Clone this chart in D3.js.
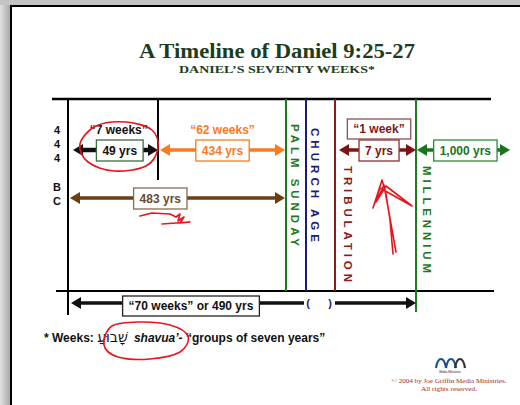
<!DOCTYPE html>
<html>
<head>
<meta charset="utf-8">
<script src="https://cdn.jsdelivr.net/npm/d3@7/dist/d3.min.js"></script>
<style>
  body { margin: 0; background: #fff; }
  svg { display: block; }
  .sans { font-family: "Liberation Sans", Arial, sans-serif; font-weight: bold; }
  .serif { font-family: "Liberation Serif", Georgia, serif; font-weight: bold; }
</style>
</head>
<body>
<svg id="chart" width="520" height="405"></svg>
<script>
// Timeline markers (left to right)
const markers = ['start', 'week7', 'palm', 'church', 'trib', 'mill', 'far'];

// Periods drawn as double arrows
const periodNames  = ['7 weeks', '62 weeks', '69 weeks', '1 week', 'Millennium'];
const periodYears  = [49, 434, 483, 7, 1000];
const periodLabels = ['49 yrs', '434 yrs', '483 yrs', '7 yrs', '1,000 yrs'];
const periodFrom   = ['start', 'week7', 'start', 'trib', 'mill'];
const periodTo     = ['week7', 'palm', 'palm', 'mill', 'far'];
const periodRow    = ['upper', 'upper', 'lower', 'upper', 'upper'];
const weekNotes    = ['\u201C7 weeks\u201D', '\u201C62 weeks\u201D', null, '\u201C1 week\u201D', null];

// Eras written down the vertical lines
const eraNames   = ['PALM SUNDAY', 'CHURCH AGE', 'TRIBULATION', 'MILLENNIUM'];
const eraMarkers = ['palm', 'church', 'trib', 'mill'];

// Start date written down the left side
const startChars = ['4', '4', '4', '', 'B', 'C'];

// Whole span
const totalLabel = '\u201C70 weeks\u201D or 490 yrs';
const totalYears = 490;

// Styles
const periodColors = {
    '7 weeks': '#111111',
    '62 weeks': '#fb7a1e',
    '69 weeks': '#6e3d12',
    '1 week': '#7e1414',
    'Millennium': '#17761c'
};
const boxBorders = {
    '7 weeks': '#3e6b3e',
    '62 weeks': '#fb7a1e',
    '69 weeks': '#8a6a50',
    '1 week': '#8e3030',
    'Millennium': '#2f8a34'
};
const eraColors = {
    'PALM SUNDAY': '#1d7a1d',
    'CHURCH AGE': '#1b1b7e',
    'TRIBULATION': '#8c1a1a',
    'MILLENNIUM': '#1d7a1d'
};

const svg = d3.select('#chart');

// Page frame (screenshot edge)
const grad = svg.append('defs').append('linearGradient').attr('id', 'edge');
grad.append('stop').attr('offset', '0%').attr('stop-color', '#e2e2e2');
grad.append('stop').attr('offset', '100%').attr('stop-color', '#a9a9a9');
svg.append('rect').attr('x', 0).attr('y', 0).attr('width', 10).attr('height', 405).attr('fill', 'url(#edge)');
svg.append('rect').attr('x', 0).attr('y', 0).attr('width', 520).attr('height', 5).attr('fill', '#c4c4c4');
svg.append('path').attr('d', 'M11,405V6H520').attr('fill', 'none').attr('stroke', '#000').attr('stroke-width', 2);

// Scales
const x = d3.scaleOrdinal().domain(markers).range([68, 158, 286, 306, 335, 416, 510]);
const y = d3.scaleOrdinal().domain(['top', 'note', 'upper', 'lower', 'bottom', 'total'])
    .range([99, 130, 150, 198, 291, 303]);

// Title
svg.append('text').attr('class', 'serif').attr('x', 277).attr('y', 58)
    .attr('text-anchor', 'middle').attr('fill', '#1c3d1c').style('font-size', '20px')
    .attr('textLength', 276).attr('lengthAdjust', 'spacingAndGlyphs')
    .text('A Timeline of Daniel 9:25-27');
svg.append('text').attr('class', 'serif').attr('x', 277).attr('y', 73)
    .attr('text-anchor', 'middle').attr('fill', '#1c3d1c').style('font-size', '10.5px')
    .attr('textLength', 196).attr('lengthAdjust', 'spacingAndGlyphs')
    .text('DANIEL\u2019S SEVENTY WEEKS*');

// Horizontal frame lines
svg.append('line').attr('x1', 52).attr('x2', 491).attr('y1', y('top')).attr('y2', y('top'))
    .attr('stroke', '#000').attr('stroke-width', 2.5);
svg.append('line').attr('x1', 56).attr('x2', 494).attr('y1', y('bottom')).attr('y2', y('bottom'))
    .attr('stroke', '#000').attr('stroke-width', 2);

// Vertical marker lines
const vLines = [
    { m: 'start', y2: 315, c: '#000' },
    { m: 'week7', y2: 180, c: '#000' },
    { m: 'palm', y2: y('bottom'), c: eraColors['PALM SUNDAY'] },
    { m: 'church', y2: y('bottom'), c: eraColors['CHURCH AGE'] },
    { m: 'trib', y2: y('bottom'), c: eraColors['TRIBULATION'] },
    { m: 'mill', y2: 312, c: eraColors['MILLENNIUM'] }
];
svg.selectAll('.vline').data(vLines).enter().append('line')
    .attr('x1', d => x(d.m)).attr('x2', d => x(d.m))
    .attr('y1', y('top')).attr('y2', d => d.y2)
    .attr('stroke', d => d.c).attr('stroke-width', 2);

// Era labels (rotated)
const eraStart = { 'PALM SUNDAY': 124, 'CHURCH AGE': 128, 'TRIBULATION': 166, 'MILLENNIUM': 166 };
const eraLen = { 'PALM SUNDAY': 122, 'CHURCH AGE': 114, 'TRIBULATION': 116, 'MILLENNIUM': 107 };
eraNames.forEach((name, i) => {
    const cx = x(eraMarkers[i]) + (i === 3 ? 11 : i === 2 ? 13 : 9);
    svg.append('text').attr('class', 'sans')
        .attr('transform', `translate(${cx},${eraStart[name]}) rotate(90)`)
        .attr('dominant-baseline', 'central')
        .attr('fill', eraColors[name]).style('font-size', '11.5px')
        .attr('textLength', eraLen[name]).attr('lengthAdjust', 'spacing')
        .text(name);
});

// Start date letters
svg.selectAll('.startc').data(startChars).enter().append('text')
    .attr('class', 'sans').attr('x', 57).attr('y', (d, i) => 134 + i * 14.2)
    .attr('text-anchor', 'middle').attr('fill', '#111').style('font-size', '11px')
    .text(d => d);

// Double arrow helper
function doubleArrow(g, x1, x2, yy, color, width, heads) {
    const hl = 10, hw = 6;
    g.append('line').attr('x1', x1 + (heads[0] ? hl - 1 : 0)).attr('x2', x2 - (heads[1] ? hl - 1 : 0))
        .attr('y1', yy).attr('y2', yy).attr('stroke', color).attr('stroke-width', width);
    if (heads[0]) g.append('path').attr('d', `M${x1},${yy}L${x1 + hl},${yy - hw}L${x1 + hl},${yy + hw}Z`).attr('fill', color);
    if (heads[1]) g.append('path').attr('d', `M${x2},${yy}L${x2 - hl},${yy - hw}L${x2 - hl},${yy + hw}Z`).attr('fill', color);
}

function labelBox(g, cx, cy, label, textColor, border, h) {
    const t = g.append('text').attr('class', 'sans').attr('x', cx).attr('y', cy)
        .attr('text-anchor', 'middle').attr('dominant-baseline', 'central')
        .attr('fill', textColor).style('font-size', '12px').text(label);
    const w = t.node().getComputedTextLength() + 12;
    g.insert('rect', 'text').attr('x', cx - w / 2).attr('y', cy - h / 2)
        .attr('width', w).attr('height', h)
        .attr('fill', '#fff').attr('stroke', border).attr('stroke-width', 1.3);
    return w;
}

// Arrow ends and box placement (tweaks per period)
const tipPad = { '7 weeks': [5, 0], '62 weeks': [2, 1], '69 weeks': [2, 1], '1 week': [4, 0], 'Millennium': [1, 0] };
const boxAt = { '7 weeks': 0.55, '62 weeks': 0.5, '69 weeks': 0.42, '1 week': 0.52, 'Millennium': 0.52 };
const strokeW = { '7 weeks': 4.5, '62 weeks': 3.5, '69 weeks': 3.5, '1 week': 3.5, 'Millennium': 3.5 };

periodNames.forEach((name, i) => {
    const g = svg.append('g');
    const x1 = x(periodFrom[i]) + tipPad[name][0];
    const x2 = x(periodTo[i]) - tipPad[name][1];
    const yy = y(periodRow[i]);
    const col = periodColors[name];
    doubleArrow(g, x1, x2, yy, col, strokeW[name], [true, true]);
    const cx = x1 + (x2 - x1) * boxAt[name];
    const textCol = name === '7 weeks' ? '#111' : name === '69 weeks' ? '#6b4a2c' : col;
    labelBox(g, cx, yy + 0.5, periodLabels[i], textCol, boxBorders[name], 21);
    if (weekNotes[i]) {
        if (name === '1 week') {
            labelBox(g, cx, y('note') - 1, weekNotes[i], '#7a1c1c', '#8e5050', 20);
        } else {
            svg.append('text').attr('class', 'sans').attr('x', cx + (name === '7 weeks' ? -1 : 0)).attr('y', y('note'))
                .attr('text-anchor', 'middle').attr('dominant-baseline', 'central')
                .attr('fill', name === '7 weeks' ? '#111' : col).style('font-size', '12px').text(weekNotes[i]);
        }
    }
});

// Whole 70 weeks arrow, broken by the church age gap
const gT = svg.append('g');
const ty = y('total');
doubleArrow(gT, x('start') + 3, x('church') - 2, ty, '#111', 3.5, [true, false]);
doubleArrow(gT, x('trib'), x('mill'), ty, '#111', 3.5, [false, true]);
gT.append('text').attr('class', 'sans').attr('x', x('church') + 2).attr('y', ty)
    .attr('text-anchor', 'middle').attr('dominant-baseline', 'central')
    .attr('fill', '#1b1b7e').style('font-size', '11px').text('(');
gT.append('text').attr('class', 'sans').attr('x', x('trib') - 5).attr('y', ty)
    .attr('text-anchor', 'middle').attr('dominant-baseline', 'central')
    .attr('fill', '#1b1b7e').style('font-size', '11px').text(')');
labelBox(gT, 191, ty + 3, totalLabel, '#111', '#222', 20);

// Footnote
const foot = svg.append('text').attr('class', 'sans').attr('x', 44).attr('y', 342)
    .attr('fill', '#111').style('font-size', '12px');
foot.append('tspan').text('* Weeks: ');
foot.append('tspan').style('font-family', '"DejaVu Sans", sans-serif').style('font-weight', 'normal')
    .style('font-size', '14px').text('\u05E9\u05B8\u05C1\u05D1\u05D5\u05BC\u05E2\u05B7');
foot.append('tspan').style('font-style', 'italic').attr('dx', 6).text('shavua\u2019-');
foot.append('tspan').text(' \u201Cgroups of seven years\u201D');

// Red hand-drawn marks
const red = svg.append('g').attr('fill', 'none').attr('stroke', '#e8141c').attr('stroke-width', 1.6)
    .attr('stroke-linejoin', 'round').attr('stroke-linecap', 'round');
const e1 = { cx: x('start') + 50, cy: y('upper') - 4 };
red.append('path').attr('d', d3.line().curve(d3.curveCardinalClosed)([
    [e1.cx - 38, e1.cy - 2], [e1.cx - 22, e1.cy - 20], [e1.cx + 8, e1.cy - 24],
    [e1.cx + 34, e1.cy - 16], [e1.cx + 40, e1.cy + 2], [e1.cx + 28, e1.cy + 20],
    [e1.cx - 4, e1.cy + 25], [e1.cx - 30, e1.cy + 16]
]));
const s = { x: 140, y: 213 };
red.append('path').attr('d', d3.line()([
    [s.x, s.y + 3], [s.x + 12, s.y], [s.x + 30, s.y + 1], [s.x + 36, s.y + 4], [s.x + 40, s.y + 1],
    [s.x + 38, s.y + 8], [s.x + 44, s.y + 4], [s.x + 40, s.y + 10], [s.x + 50, s.y + 9], [s.x + 22, s.y + 11]
]));
const a = { x: x('trib') + 47, y: 180 };
red.append('path').attr('d', d3.line()([
    [a.x + 11, a.y + 74], [a.x + 8, a.y + 40], [a.x + 4, a.y + 14], [a.x, a.y],
    [a.x - 9, a.y + 28], [a.x - 2, a.y + 8], [a.x + 30, a.y + 26], [a.x + 4, a.y + 6],
    [a.x - 6, a.y + 22], [a.x + 2, a.y + 5], [a.x + 14, a.y + 72]
]));
red.append('path').attr('d', d3.line().curve(d3.curveCardinalClosed)([
    [104, 345], [112, 326], [140, 322], [170, 325], [188, 336], [180, 352], [150, 359], [118, 357]
]));

// Logo and copyright
const logo = svg.append('g').attr('fill', 'none').attr('stroke-width', 2.2);
[[436, '#1b4f9a'], [446, '#1b4f9a'], [455, '#333']].forEach(([lx, c]) => {
    logo.append('path').attr('d', `M${lx},368 C${lx + 2},356 ${lx + 8},356 ${lx + 10},368`).attr('stroke', c);
});
svg.append('text').attr('x', 450).attr('y', 373).attr('text-anchor', 'middle')
    .style('font-family', '"Liberation Sans", sans-serif').style('font-size', '3px').attr('fill', '#222')
    .text('Media Ministries');
svg.append('text').attr('class', 'serif').attr('x', 449).attr('y', 383).attr('text-anchor', 'middle')
    .attr('fill', '#9e2a2a').style('font-size', '7px').style('font-weight', 'normal')
    .attr('textLength', 115).attr('lengthAdjust', 'spacingAndGlyphs')
    .text('\u00A9 2004  by Joe Griffin Media Ministries.');
svg.append('text').attr('class', 'serif').attr('x', 449).attr('y', 391).attr('text-anchor', 'middle')
    .attr('fill', '#9e2a2a').style('font-size', '7px').style('font-weight', 'normal')
    .attr('textLength', 56).attr('lengthAdjust', 'spacingAndGlyphs')
    .text('All rights reserved.');
</script>
</body>
</html>
